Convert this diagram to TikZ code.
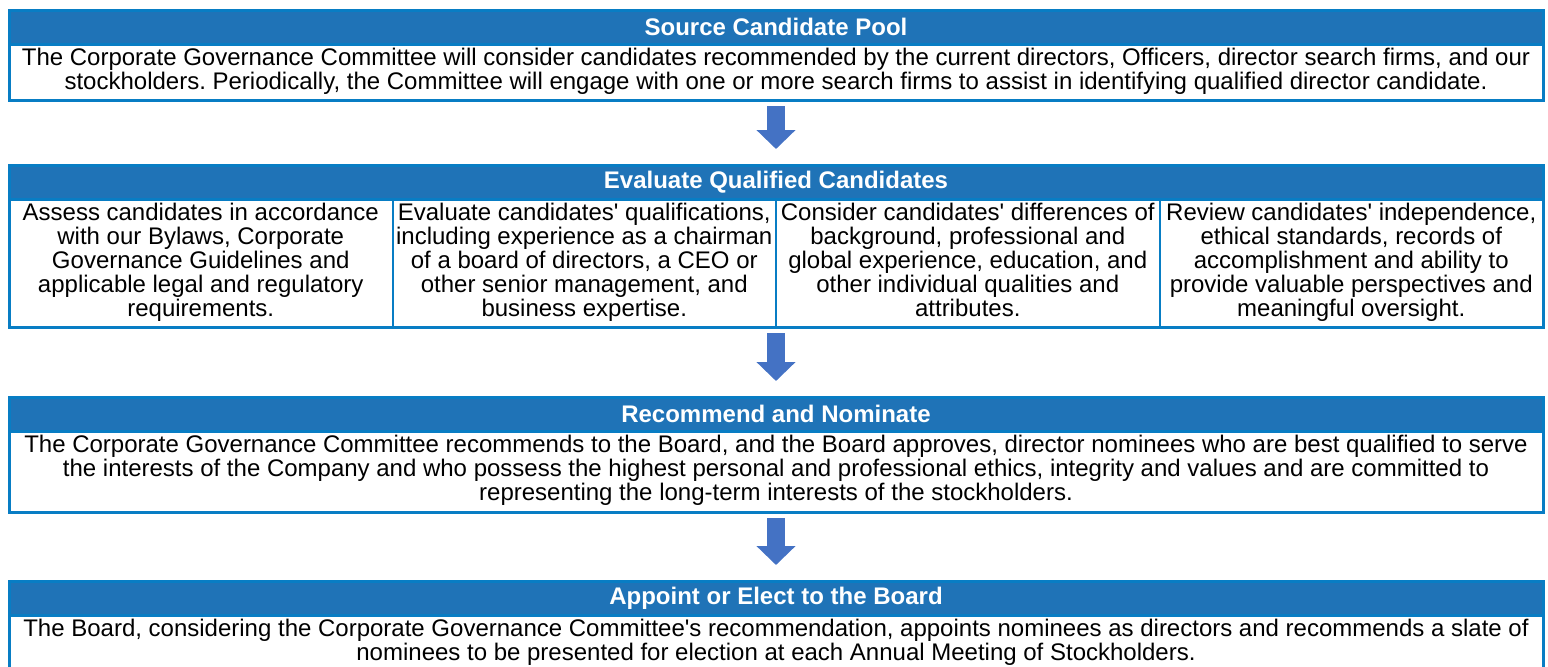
\documentclass[tikz,border=0pt]{standalone}
\usepackage{fontspec}
\setmainfont{Liberation Sans}
\usepackage{tikz}
\usetikzlibrary{arrows.meta,positioning}
\usepackage{xcolor}
\definecolor{gvblue}{RGB}{31,115,183}
\definecolor{gvedge}{RGB}{8,125,196}
\definecolor{gvarrow}{RGB}{68,114,196}
\newcommand{\ap}{\textquotesingle}
\frenchspacing
\tikzstyle{header} = [rectangle, minimum width=767pt, minimum height=17pt, inner sep=0pt, outer sep=0pt, fill=gvblue, draw=gvedge, line width=1.5pt, text=white, font=\fontsize{12}{12}\selectfont\bfseries]
\tikzstyle{panel} = [rectangle, minimum width=767pt, inner sep=0pt, outer sep=0pt, draw=gvedge, line width=1.5pt, align=center, font=\fontsize{12}{12}\selectfont, execute at begin node=\strut, execute at end node=\strut]
\tikzstyle{cell} = [panel, minimum width=191.75pt, minimum height=64pt, line width=1pt]
\tikzstyle{arrow} = [line width=9pt, color=gvarrow, -{Triangle[length=9.5pt,width=19pt]}, shorten <=3pt, shorten >=8pt]

\begin{document}
\begin{tikzpicture}
\useasboundingbox (0,0) rectangle (774pt,-333pt);
\clip (0,0) rectangle (774pt,-333pt);
% Source
\node (src_head) [header, anchor=north] at (388pt,-5pt) {Source Candidate Pool};
\node (src_body) [panel, below=0pt of src_head, minimum height=28pt] {The Corporate Governance Committee will consider candidates recommended by the current directors, Officers, director search firms, and our\\ stockholders. Periodically, the Committee will engage with one or more search firms to assist in identifying qualified director candidate.};

% Evaluate
\node (eval_head) [header, below=32.5pt of src_body] {Evaluate Qualified Candidates};
\node (eval_a) [cell, below right=0pt and 0pt of eval_head.south west] {Assess candidates in accordance\\ with our Bylaws, Corporate\\ Governance Guidelines and\\ applicable legal and regulatory\\ requirements.};
\node (eval_b) [cell, right=0pt of eval_a] {Evaluate candidates\ap{} qualifications,\\ including experience as a chairman\\ of a board of directors, a CEO or\\ other senior management, and\\ business expertise.};
\node (eval_c) [cell, right=0pt of eval_b] {Consider candidates\ap{} differences of\\ background, professional and\\ global experience, education, and\\ other individual qualities and\\ attributes.};
\node (eval_d) [cell, right=0pt of eval_c] {Review candidates\ap{} independence,\\ ethical standards, records of\\ accomplishment and ability to\\ provide valuable perspectives and\\ meaningful oversight.};
\draw[gvedge, line width=1.5pt] (eval_a.north west) rectangle (eval_d.south east);

% Recommend
\node (rec_head) [header, below right=35pt and 0pt of eval_a.south west] {Recommend and Nominate};
\node (rec_body) [panel, below=0pt of rec_head, minimum height=40.5pt] {The Corporate Governance Committee recommends to the Board, and the Board approves, director nominees who are best qualified to serve\\ the interests of the Company and who possess the highest personal and professional ethics, integrity and values and are committed to\\ representing the long-term interests of the stockholders.};

% Appoint
\node (app_head) [header, below=34.5pt of rec_body] {Appoint or Elect to the Board};
\node (app_body) [panel, below=0pt of app_head, minimum height=28pt] {The Board, considering the Corporate Governance Committee\ap{}s recommendation, appoints nominees as directors and recommends a slate of\\ nominees to be presented for election at each Annual Meeting of Stockholders.};

\draw[arrow] (src_body) -- (eval_head);
\draw[arrow] (eval_b.south east) -- (rec_head);
\draw[arrow] (rec_body) -- (app_head);
\end{tikzpicture}
\end{document}
